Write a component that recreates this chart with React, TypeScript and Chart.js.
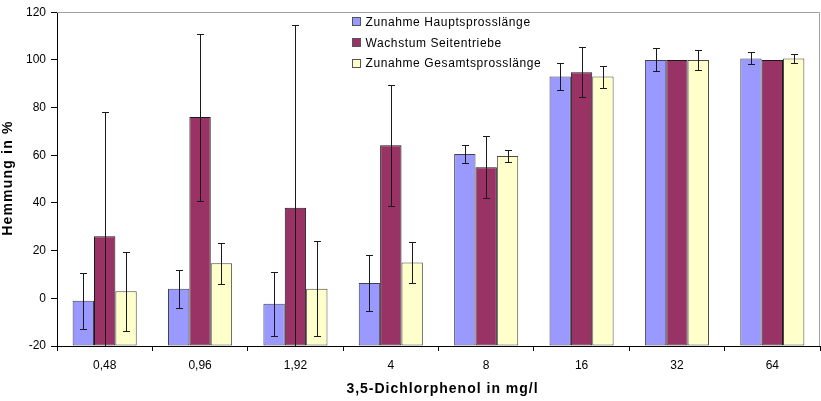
import React, { useEffect, useRef } from "react";
import { Chart, registerables } from "chart.js";

Chart.register(...registerables);

const categories = ["0,48", "0,96", "1,92", "4", "8", "16", "32", "64"];
const hauptValues = [-1, 4, -2.3, 6.4, 60.5, 93, 100, 100.6];
const hauptErrors = [11.7, 8, 13.3, 11.7, 3.6, 5.5, 4.8, 2.5];
const seitenValues = [26, 76, 38, 64.2, 55, 94.8, 100, 100];
const seitenErrors = [52, 35, 76.5, 25.3, 12.9, 10.4, 0, 0];
const gesamtValues = [3, 14.7, 4, 15, 59.7, 93, 100, 100.6];
const gesamtErrors = [16.5, 8.5, 20, 8.5, 2.4, 4.6, 4.3, 1.7];
const seriesNames = ["Zunahme Hauptsprosslänge", "Wachstum Seitentriebe", "Zunahme Gesamtsprosslänge"];
const yTicks = [-20, 0, 20, 40, 60, 80, 100, 120];
const Y_MIN = -20;
const Y_MAX = 120;

const colors = ["#9999FF", "#993366", "#FFFFCC"];
const borderColors = ["#404050", "#1a1a1a", "#4a4a44"];
const errorSets = [hauptErrors, seitenErrors, gesamtErrors];
const FONT = '"Liberation Sans", Arial, sans-serif';

const decorPlugin = {
  id: "decor",
  beforeDatasetsDraw(chart: any) {
    const { ctx, chartArea } = chart;
    ctx.save();
    ctx.strokeStyle = "#a0a0a0";
    ctx.lineWidth = 1;
    ctx.beginPath();
    ctx.moveTo(chartArea.left, Math.round(chartArea.top) + 0.5);
    ctx.lineTo(Math.round(chartArea.right) - 0.5, Math.round(chartArea.top) + 0.5);
    ctx.lineTo(Math.round(chartArea.right) - 0.5, chartArea.bottom);
    ctx.stroke();
    ctx.restore();
  },
  afterDatasetsDraw(chart: any) {
    const { ctx, chartArea } = chart;
    const yScale = chart.scales.y;
    ctx.save();
    ctx.beginPath();
    ctx.rect(chartArea.left, chartArea.top, chartArea.right - chartArea.left, chartArea.bottom - chartArea.top);
    ctx.clip();
    ctx.strokeStyle = "#1a1a1a";
    ctx.lineWidth = 1;
    chart.data.datasets.forEach((ds: any, di: number) => {
      const meta = chart.getDatasetMeta(di);
      const errs = errorSets[di];
      meta.data.forEach((el: any, i: number) => {
        const v = ds.data[i];
        const e = errs[i];
        if (!e) return;
        const x = Math.round(el.x) + 0.5;
        const yTop = Math.round(yScale.getPixelForValue(v + e)) + 0.5;
        const yBot = Math.round(yScale.getPixelForValue(v - e)) + 0.5;
        ctx.beginPath();
        ctx.moveTo(x, yTop);
        ctx.lineTo(x, yBot);
        ctx.moveTo(x - 3.5, yTop);
        ctx.lineTo(x + 3.5, yTop);
        ctx.moveTo(x - 3.5, yBot);
        ctx.lineTo(x + 3.5, yBot);
        ctx.stroke();
      });
    });
    ctx.restore();
  },
  afterDraw(chart: any) {
    const { ctx, chartArea } = chart;
    ctx.save();
    // Legend
    ctx.font = `12px ${FONT}`;
    (ctx as any).letterSpacing = "0.6px";
    ctx.textBaseline = "alphabetic";
    ctx.textAlign = "left";
    const rowsY = [21.5, 42.5, 63.2];
    seriesNames.forEach((name, i) => {
      const cy = rowsY[i];
      ctx.fillStyle = colors[i];
      ctx.fillRect(353, Math.round(cy - 3.5), 7, 7);
      ctx.strokeStyle = "#555";
      ctx.lineWidth = 1;
      ctx.strokeRect(352.5, Math.round(cy - 3.5) - 0.5, 8, 8);
      ctx.fillStyle = "#000";
      ctx.fillText(name, 365.5, cy + 4.2);
    });
    // Axis titles
    ctx.font = `bold 14px ${FONT}`;
    (ctx as any).letterSpacing = "1px";
    ctx.textAlign = "center";
    ctx.fillStyle = "#000";
    ctx.fillText("3,5-Dichlorphenol in mg/l", (chartArea.left + chartArea.right) / 2 + 4, 393);
    ctx.translate(12, (chartArea.top + chartArea.bottom) / 2);
    ctx.rotate(-Math.PI / 2);
    (ctx as any).letterSpacing = "1.2px";
    ctx.fillText("Hemmung in %", 1, 0);
    ctx.restore();
  },
};

export default function App() {
  const ref = useRef<HTMLCanvasElement | null>(null);
  useEffect(() => {
    document.body.style.margin = "0";
    if (!ref.current) return;
    const barCommon = { borderWidth: 1, borderSkipped: false, base: Y_MIN };
    const chart = new Chart(ref.current, {
      type: "bar",
      data: {
        labels: categories,
        datasets: [
          { label: seriesNames[0], data: hauptValues, backgroundColor: colors[0], borderColor: borderColors[0], ...barCommon },
          { label: seriesNames[1], data: seitenValues, backgroundColor: colors[1], borderColor: borderColors[1], ...barCommon },
          { label: seriesNames[2], data: gesamtValues, backgroundColor: colors[2], borderColor: borderColors[2], ...barCommon },
        ],
      },
      options: {
        responsive: false,
        animation: false,
        events: [],
        layout: { padding: { top: 5, right: 1, left: 0, bottom: 0 } },
        datasets: { bar: { categoryPercentage: 0.672, barPercentage: 1 } },
        plugins: { legend: { display: false }, tooltip: { enabled: false }, title: { display: false } },
        scales: {
          x: {
            afterFit: (s: any) => { s.height = 55; },
            grid: { offset: true, drawOnChartArea: false, drawTicks: true, tickLength: 5, color: "#000" },
            border: { display: true, color: "#000" },
            ticks: { color: "#000", font: { size: 12, family: FONT }, padding: 7, maxRotation: 0 },
          },
          y: {
            min: Y_MIN,
            max: Y_MAX,
            afterFit: (s: any) => { s.width = 57; },
            afterBuildTicks: (s: any) => { s.ticks = yTicks.map((v) => ({ value: v })); },
            grid: { drawOnChartArea: false, drawTicks: true, tickLength: 6, color: "#000" },
            border: { display: true, color: "#000" },
            ticks: { color: "#000", font: { size: 12, family: FONT }, padding: 5 },
          },
        },
      },
      plugins: [decorPlugin],
    } as any);
    return () => chart.destroy();
  }, []);
  return (
    <div style={{ width: 821, height: 401 }}>
      <canvas ref={ref} width={821} height={401} style={{ display: "block" }} />
    </div>
  );
}
